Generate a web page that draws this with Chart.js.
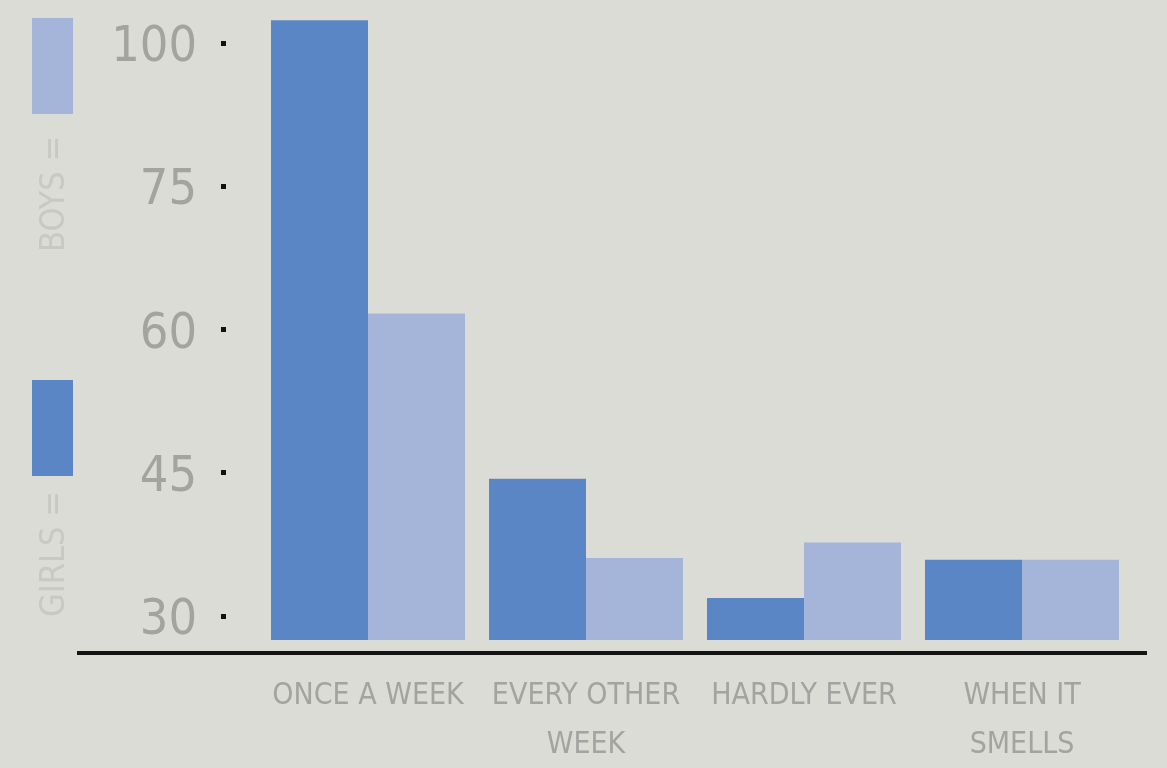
<!DOCTYPE html>
<html><head><meta charset="utf-8">
<script src="https://cdn.jsdelivr.net/npm/chart.js@4.4.1/dist/chart.umd.min.js"></script>
<style>
html,body{margin:0;padding:0;background:#dcdcd6;overflow:hidden}
#wrap{width:1167px;height:768px;position:relative}
</style>
</head><body><div id="wrap"><canvas id="c" width="1167" height="768"></canvas></div>
<script>
// ---- data ----
const categories = [['ONCE A WEEK'], ['EVERY OTHER', 'WEEK'], ['HARDLY EVER'], ['WHEN IT', 'SMELLS']];
const seriesNames = ['GIRLS', 'BOYS'];
const girls = [104, 44.4, 31.9, 35.9];
const boys = [61.7, 36.1, 37.7, 35.9];
const yTicks = [30, 45, 60, 75, 100];
const yMin = 27.5, yMax = 105.8;

const FONT = '"Liberation Sans Narrow", "DejaVu Sans Condensed", "Roboto", sans-serif';
const GIRL_COLOR = '#5b86c5';
const BOY_COLOR = '#a5b5da';

// piecewise scale: tick values equally spaced on the axis
class StepScale extends Chart.LinearScale {
  buildTicks() { return yTicks.map(v => ({ value: v })); }
  _pos(v) {
    const t = yTicks, n = t.length;
    let i = 0;
    if (v <= t[0]) i = 0;
    else if (v >= t[n - 1]) i = n - 2;
    else { while (v > t[i + 1]) i++; }
    return i + (v - t[i]) / (t[i + 1] - t[i]);
  }
  _val(p) {
    const t = yTicks, n = t.length;
    const i = Math.min(Math.max(Math.floor(p), 0), n - 2);
    return t[i] + (p - i) * (t[i + 1] - t[i]);
  }
  getPixelForValue(value) {
    if (value === null || value === undefined || isNaN(value)) return NaN;
    const a = this._pos(this.min), b = this._pos(this.max);
    return this.getPixelForDecimal((this._pos(value) - a) / (b - a));
  }
  getValueForPixel(pixel) {
    const a = this._pos(this.min), b = this._pos(this.max);
    return this._val(a + this.getDecimalForPixel(pixel) * (b - a));
  }
}
StepScale.id = 'step';
StepScale.defaults = {};
Chart.register(StepScale);

const sideLegend = {
  id: 'sideLegend',
  afterDraw(chart) {
    const ctx = chart.ctx;
    const ds = chart.data.datasets;
    const items = [
      { ds: ds[1], top: 18, textBottom: 252 },
      { ds: ds[0], top: 380, textBottom: 617 }
    ];
    items.forEach(it => {
      ctx.save();
      ctx.fillStyle = it.ds.backgroundColor;
      ctx.fillRect(32, it.top, 41, 96);
      ctx.translate(55, it.textBottom);
      ctx.rotate(-Math.PI / 2);
      ctx.font = '34px ' + FONT;
      ctx.fillStyle = '#c8c8c4';
      ctx.textAlign = 'left';
      ctx.textBaseline = 'middle';
      ctx.fillText(it.ds.label + ' =', 0, 0);
      ctx.restore();
    });
  }
};

const axisLine = {
  id: 'axisLine',
  afterDatasetsDraw(chart) {
    const { ctx, chartArea } = chart;
    const y = chartArea.bottom + 13;
    ctx.save();
    ctx.strokeStyle = '#151515';
    ctx.lineWidth = 4;
    ctx.beginPath();
    ctx.moveTo(77, y);
    ctx.lineTo(chartArea.right + 16, y);
    ctx.stroke();
    ctx.restore();
  }
};

new Chart(document.getElementById('c'), {
  type: 'bar',
  data: {
    labels: categories,
    datasets: [
      { label: seriesNames[0], data: girls, backgroundColor: GIRL_COLOR, borderWidth: 0 },
      { label: seriesNames[1], data: boys, backgroundColor: BOY_COLOR, borderWidth: 0 }
    ]
  },
  options: {
    responsive: false,
    animation: false,
    layout: { padding: { top: 10, right: 36, bottom: 0, left: 0 } },
    datasets: { bar: { categoryPercentage: 0.89, barPercentage: 1.0 } },
    plugins: { legend: { display: false }, tooltip: { enabled: false } },
    scales: {
      x: {
        grid: { display: false, drawTicks: false },
        border: { display: false },
        ticks: { color: '#a3a3a0', font: { family: FONT, size: 30, lineHeight: 1.65 }, padding: 31, maxRotation: 0, autoSkip: false },
        afterFit(s) { s.height = 128; s.paddingLeft = 0; s.paddingRight = 0; }
      },
      y: {
        type: 'step',
        min: yMin,
        max: yMax,
        border: { display: false },
        grid: {
          display: true, drawOnChartArea: false, drawTicks: true,
          tickLength: 38, tickWidth: 5, tickColor: '#111111',
          tickBorderDash: [5, 300]
        },
        ticks: { color: '#a3a3a0', font: { family: FONT, size: 50 }, padding: 24, labelOffset: 5, callback: v => String(v) },
        afterFit(s) { s.width = 259; s.paddingTop = 0; s.paddingBottom = 0; }
      }
    }
  },
  plugins: [sideLegend, axisLine]
});
</script>
</body></html>
